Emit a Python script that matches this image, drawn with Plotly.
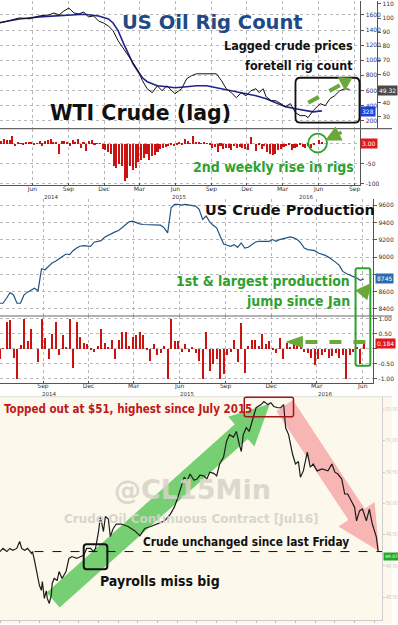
import plotly.graph_objects as go
import pandas as pd

W, H = 398, 625
def fx(x): return x / W
def fy(y): return 1 - y / H

# ---------------- DATA ----------------
# Panel 1: US oil rig count and lagged WTI crude
rig_dates = ["2014-03-10", "2014-04-29", "2014-06-18", "2014-07-26", "2014-09-02", "2014-10-10",
             "2014-11-17", "2014-12-12", "2014-12-24", "2015-01-06", "2015-01-19", "2015-02-01",
             "2015-02-13", "2015-02-26", "2015-03-09", "2015-03-21", "2015-04-03", "2015-04-16",
             "2015-05-10", "2015-05-31", "2015-06-30", "2015-07-25", "2015-08-20", "2015-09-14",
             "2015-10-09", "2015-11-04", "2015-11-29", "2015-12-24", "2016-01-19", "2016-02-13",
             "2016-03-08", "2016-04-03", "2016-04-28", "2016-05-18", "2016-06-03", "2016-06-10"]
rig_count = [1500, 1547, 1574, 1587, 1600, 1610, 1587, 1547, 1494, 1389, 1230, 1085,
             953, 847, 768, 715, 689, 662, 649, 636, 649, 662, 662, 636,
             610, 583, 557, 530, 490, 438, 385, 358, 332, 316, 325, 328]

wti_dates = ["2014-03-10", "2014-04-29", "2014-05-24", "2014-06-18", "2014-07-13", "2014-07-26",
             "2014-08-08", "2014-08-20", "2014-09-02", "2014-09-15", "2014-09-27", "2014-10-10",
             "2014-10-22", "2014-11-04", "2014-11-17", "2014-11-29", "2014-12-12", "2014-12-24",
             "2015-01-06", "2015-01-19", "2015-02-01", "2015-02-13", "2015-02-26", "2015-03-09",
             "2015-03-21", "2015-04-03", "2015-04-16", "2015-04-28", "2015-05-10", "2015-05-31",
             "2015-06-17", "2015-06-30", "2015-07-12", "2015-07-25", "2015-08-20", "2015-09-14",
             "2015-09-27", "2015-10-09", "2015-10-22", "2015-11-04", "2015-11-16", "2015-11-29",
             "2015-12-11", "2015-12-24", "2016-01-01", "2016-01-11", "2016-01-19", "2016-02-01",
             "2016-02-13", "2016-02-26", "2016-03-08", "2016-03-21", "2016-04-03", "2016-04-15",
             "2016-04-28", "2016-05-05", "2016-05-18", "2016-06-05", "2016-06-18", "2016-06-30",
             "2016-07-12", "2016-07-25", "2016-08-07", "2016-08-19"]
wti_lag = [96.5, 100.1, 99.4, 101.5, 102.2, 103.6, 102.2, 105.0, 107.1, 103.6, 102.9, 104.3,
           100.8, 101.5, 97.9, 96.5, 94.4, 90.9, 83.8, 78.1, 73.2, 68.2, 62.5, 55.5,
           49.8, 47.0, 51.9, 48.4, 51.9, 46.3, 49.8, 56.9, 59.0, 60.4, 60.4, 60.4,
           55.5, 49.8, 47.0, 43.4, 47.0, 44.8, 48.4, 49.8, 47.0, 49.8, 44.1, 41.3,
           41.3, 39.2, 37.1, 39.2, 32.8, 30.7, 30.7, 29.3, 34.2, 39.2, 37.8, 42.7,
           44.8, 48.4, 49.8, 49.32]

# Panel 2: weekly change in oil rigs (Fridays from 2014-03-14)
rig_chg_start = "2014-03-14"
rig_chg = [8, 12, 10, 9, 20, -6, 3, 2, -2, 4, 3, 6, -3, 2, 8, -4, 7, 10, 12, 5, 3, -25,
           8, 7, 6, -4, 10, 4, 12, -10, 5, -17, 8, 10, -3, 2, 2, -12, -15, -20, -25, -55,
           -60, -50, -55, -93, -85, -55, -65, -60, -45, -40, -35, -25, -40, -30, -28, -20,
           -12, -10, -8, -5, -3, -6, -2, 3, -1, 12, 8, 2, 19, 5, 6, 2, 4, 1, -2, -10, -8,
           -20, -4, -12, -10, -9, -16, -6, -10, -8, -10, -12, -14, 17, 0, -18,
           -2, -12, -5, -20, -25, -28, -26, -15, -12, -8, -6, -1, -15, -10, -8, -3, -8,
           -11, -4, -10, -2, 0, 9, 3]

# Panel 3: US crude production, weekly (Fridays from 2014-06-06), kb/d
prod_start = "2014-06-06"
prod = [8463, 8463, 8521, 8588, 8560, 8463, 8463, 8560, 8592, 8619, 8638, 8607,
        8864, 8852, 8891, 8930, 8950, 8981, 9008, 9035, 9028, 9074, 9105, 9125,
        9133, 9125, 9125, 9172, 9183, 9191, 9230, 9253, 9269, 9292, 9308, 9339,
        9370, 9409, 9417, 9397, 9386, 9378, 9378, 9370, 9370, 9370, 9370, 9339,
        9281, 9573, 9612, 9612, 9604, 9612, 9604, 9604, 9592, 9553, 9436, 9476,
        9409, 9370, 9339, 9242, 9152, 9137, 9125, 9144, 9113, 9164, 9105, 9113,
        9144, 9172, 9183, 9183, 9191, 9183, 9203, 9183, 9203, 9214, 9230, 9234,
        9222, 9203, 9164, 9105, 9086, 9082, 9074, 9047, 9035, 9020, 8996, 8969,
        8938, 8903, 8833, 8809, 8794, 8774, 8755, 8729, 8745]
# Panel 4: weekly % change in production
prod_chg = [-0.35, 0.02, 0.9, 0.97, -0.3, -1.0, 0.12, 1.0, 0.25, 0.65, 0.0, -0.45,
            1.0, 0.35, -0.33, 0.5, 0.9, -0.2, 0.45, 0.05, 1.0, -0.65, 0.9, 0.4,
            0.2, 0.15, -0.05, -0.1, 0.1, 0.65, 0.2, 0.05, 0.3, -0.35, 0.3, 0.55,
            0.55, 0.1, 0.4, 0.45, 0.55, 0.45, -0.05, -0.4, 0.15, -0.2, -0.15, 0.1,
            -1.0, 1.0, 0.25, 0.25, -0.1, 0.15, -0.1, 0.05, -0.15, -0.4, -1.0, 0.55,
            -0.75, -0.5, -0.35, -1.0, -0.85, -0.2, -0.1, 0.3, -0.45, 0.85, -0.8, 0.1,
            0.3, 0.3, 0.1, 0.5, 0.15, 0.25, -0.05, -0.15, 0.35, -0.35, 0.2, 0.05,
            0.25, 0.15, 0.1, -0.1, -0.15, -0.3, -0.55, -0.35, -0.2, -0.1, -0.3, -0.25,
            -0.15, -0.3, -0.2, -1.0, -0.2, -0.1, 0.05, -0.5, 0.184]

# Panel 5: crude oil continuous contract, 15-min (hours since start, price)
cl_hours = [0, 0.9, 2.1, 3.0, 3.9, 5.1, 6.0, 6.6, 7.5, 8.4, 9.6, 9.9, 10.5, 11.1, 11.4, 12.0,
            12.6, 12.9, 13.5, 14.1, 14.4, 15.0, 15.6, 15.9, 16.5, 17.4, 18.0, 18.9, 20.1, 21.0,
            21.9, 23.4, 24.6, 25.5, 26.4, 27.6, 28.5, 29.1, 30.0, 30.6, 30.9, 31.5, 32.1, 33.0,
            33.6, 34.5, 35.4, 36.9, 39.0, 41.1, 42.6, 44.1, 45.9, 48.0, 50.1, 51.9, 53.1, 54.0,
            54.9, 56.1, 57.0, 57.9, 59.1, 60.0, 60.9, 62.1, 63.0, 63.9, 65.1, 66.0, 66.9, 68.1,
            69.0, 69.9, 71.1, 72.0, 72.9, 73.5, 74.1, 75.0, 75.9, 77.1, 78.0, 79.5, 80.4, 81.6,
            82.5, 83.4, 84.6, 85.5, 86.4, 87.0, 87.9, 89.1, 90.0, 90.9, 91.5, 92.4, 93.6, 94.5,
            95.4, 96.6, 98.1, 99.9, 101.1, 102.0, 102.9, 104.1, 105.0, 105.9, 107.1, 108.0,
            108.6, 109.5, 110.4, 111.6, 112.5, 113.4, 114.6, 115.2]
cl_price = [49.23, 49.28, 49.23, 49.28, 49.25, 49.28, 49.39, 49.28, 49.25, 49.28, 49.20, 49.23,
            49.09, 48.93, 48.83, 48.69, 48.61, 48.75, 48.48, 48.60, 48.48, 48.40, 48.53, 48.72,
            48.80, 48.77, 48.91, 48.80, 48.91, 49.12, 49.15, 49.12, 49.15, 49.17, 49.28, 49.28,
            49.23, 49.28, 49.55, 49.79, 49.71, 49.55, 49.79, 49.75, 49.47, 49.60, 49.67, 49.67,
            49.63, 49.56, 49.48, 49.60, 49.63, 49.67, 49.72, 49.83, 49.94, 50.07, 50.23, 50.42,
            50.36, 50.47, 50.37, 50.39, 50.45, 50.44, 50.39, 50.50, 50.48, 50.44, 50.63, 50.74,
            50.99, 51.10, 51.06, 51.15, 50.94, 50.83, 51.10, 51.21, 51.15, 51.37, 51.53, 51.58,
            51.63, 51.58, 51.61, 51.55, 51.53, 51.53, 51.58, 51.21, 51.10, 50.79, 50.63, 50.67,
            50.42, 50.52, 50.82, 50.58, 50.63, 50.52, 50.55, 50.52, 50.63, 50.50, 50.47, 50.39,
            50.15, 50.15, 50.04, 49.94, 49.72, 49.88, 49.91, 49.72, 49.91, 49.67, 49.47, 49.23]
last_friday_close = 49.23

q_ticks_top = ["2014-03-01", "2014-06-01", "2014-09-01", "2014-12-01", "2015-03-01", "2015-06-01",
               "2015-09-01", "2015-12-01", "2016-03-01", "2016-06-01", "2016-09-01"]
q_text_top = ["Mar", "Jun", "Sep", "Dec", "Mar", "Jun", "Sep", "Dec", "Mar", "Jun", "Sep"]
q_ticks_mid = q_ticks_top[2:10]
q_text_mid = q_text_top[2:10]

rig_chg_dates = pd.date_range(rig_chg_start, periods=len(rig_chg), freq="7D")
prod_dates = pd.date_range(prod_start, periods=len(prod), freq="7D")

# ---------------- FIGURE ----------------
RED = "#cc1111"
GREEN_T = "#2fa12f"
GREEN_A = "#6aa83a"
COND = "DejaVu Sans Condensed, Liberation Sans Narrow, sans-serif"
BOLD = "DejaVu Sans, Verdana, sans-serif"
TICKF = dict(size=6, color="#333", family="DejaVu Sans")

fig = go.Figure()
fig.add_trace(go.Scatter(x=rig_dates, y=rig_count, mode="lines", xaxis="x", yaxis="y",
                         line=dict(color="#23238e", width=1.6)))
fig.add_trace(go.Scatter(x=wti_dates, y=wti_lag, mode="lines", xaxis="x", yaxis="y2",
                         line=dict(color="#111", width=1)))
fig.add_trace(go.Bar(x=rig_chg_dates, y=rig_chg, xaxis="x2", yaxis="y3",
                     marker=dict(color=RED, line=dict(width=0)), width=4 * 86400000))
fig.add_trace(go.Scatter(x=prod_dates, y=prod, mode="lines", xaxis="x3", yaxis="y4",
                         line=dict(color="#24527f", width=1.2)))
fig.add_trace(go.Bar(x=prod_dates, y=prod_chg, xaxis="x4", yaxis="y5",
                     marker=dict(color=RED, line=dict(width=0)), width=4 * 86400000))
fig.add_trace(go.Scatter(x=cl_hours, y=cl_price, mode="lines", xaxis="x5", yaxis="y6",
                         line=dict(color="#1c1c1c", width=1.2)))

grid = dict(showgrid=True, gridcolor="#b8b8b8", griddash="dot", gridwidth=0.8)
yright = dict(side="right", ticks="outside", ticklen=3, tickcolor="#555", showline=True,
              linecolor="#555", linewidth=1, tickfont=TICKF, zeroline=False, fixedrange=True)

fig.update_layout(
    width=W, height=H, margin=dict(l=0, r=0, t=0, b=0),
    paper_bgcolor="white", plot_bgcolor="rgba(0,0,0,0)", showlegend=False, bargap=0,
    xaxis=dict(domain=[0, fx(366)], anchor="y", type="date", range=["2014-03-10", "2016-09-16"],
               tickvals=q_ticks_top, showticklabels=False, ticks="", **grid),
    yaxis=dict(domain=[fy(128), 1], anchor="x", range=[94, 1785],
               tickvals=[200, 400, 600, 800, 1000, 1200, 1400, 1600],
               tickfont=dict(size=6, color="#333366", family="DejaVu Sans"),
               **{k: v for k, v in yright.items() if k != "tickfont"}, **grid),
    yaxis2=dict(overlaying="y", anchor="free", position=fx(383), range=[21.5, 112.1],
                tickvals=[30, 40, 50, 60, 70, 80, 90, 100, 110],
                ticktext=["30", "40", "", "60", "70", "80", "90", "100", "110"],
                showgrid=False, **yright),
    xaxis2=dict(domain=[0, fx(366)], anchor="y3", type="date", matches="x",
                tickvals=q_ticks_top, ticktext=q_text_top, tickfont=TICKF, ticks="inside",
                ticklen=2, tickcolor="#555", showline=True, linecolor="#555",
                ticklabelstandoff=-3, **grid),
    yaxis3=dict(domain=[fy(185), fy(128)], anchor="x2", range=[-105, 37.5],
                tickvals=[0, -50, -100], ticktext=["", "-50", "-100"], **yright, **grid),
    xaxis3=dict(domain=[0, fx(379)], anchor="y4", type="date", range=["2014-06-07", "2016-06-22"],
                tickvals=q_ticks_mid, showticklabels=False, ticks="", **grid),
    yaxis4=dict(domain=[fy(316), fy(199)], anchor="x3", range=[8315, 9670],
                tickvals=[8400, 8600, 8800, 9000, 9200, 9400, 9600],
                ticktext=["8400", "8600", "", "9000", "9200", "9400", "9600"], **yright, **grid),
    xaxis4=dict(domain=[0, fx(379)], anchor="y5", type="date", matches="x3",
                tickvals=q_ticks_mid, ticktext=q_text_mid, tickfont=TICKF, ticks="inside",
                ticklen=2, tickcolor="#555", showline=True, linecolor="#555",
                ticklabelstandoff=-3, **grid),
    yaxis5=dict(domain=[fy(383), fy(316)], anchor="x4", range=[-1.14, 1.10],
                tickvals=[1, 0.5, 0, -0.5, -1], ticktext=["1.00", "0.50", "", "-0.50", "-1.00"],
                **yright, **grid),
    xaxis5=dict(domain=[0, fx(388)], anchor="y6", range=[0, 116.4], showticklabels=False,
                showgrid=False, zeroline=False, showline=True, linecolor="#ccc", ticks="outside",
                ticklen=2, tickcolor="#bbb", dtick=6),
    yaxis6=dict(domain=[fy(621), fy(397)], anchor="x5", side="right", range=[48.135, 51.706],
                tickvals=[48.5, 49.0, 49.5, 50.0, 50.5, 51.0, 51.5],
                ticktext=["48.50", "49.00", "49.50", "50.00", "50.50", "51.00", "51.50"],
                tickfont=dict(size=4.5, color="#c8c4b8"), ticks="outside", ticklen=2,
                tickcolor="#ccc", showline=True, linecolor="#cfcfcf", showgrid=False,
                zeroline=False),
)

def P(x, y):
    return f"{fx(x):.5f},{fy(y):.5f}"

def poly(pts):
    return "M " + " L ".join(P(x, y) for x, y in pts) + " Z"

def rrect(x0, y0, x1, y1, r):
    return ("M " + P(x0 + r, y0) + " L " + P(x1 - r, y0) + " Q " + P(x1, y0) + " " + P(x1, y0 + r) +
            " L " + P(x1, y1 - r) + " Q " + P(x1, y1) + " " + P(x1 - r, y1) +
            " L " + P(x0 + r, y1) + " Q " + P(x0, y1) + " " + P(x0, y1 - r) +
            " L " + P(x0, y0 + r) + " Q " + P(x0, y0) + " " + P(x0 + r, y0) + " Z")

shapes = []
shapes.append(dict(type="rect", xref="paper", yref="paper", x0=0, x1=1, y0=0, y1=fy(397),
                   fillcolor="#fcf8ec", line=dict(width=0), layer="below"))
for yy in (128, 316):
    shapes.append(dict(type="line", xref="paper", yref="paper", x0=0, x1=1, y0=fy(yy), y1=fy(yy),
                       line=dict(color="#666", width=1.2)))
shapes.append(dict(type="line", xref="paper", yref="paper", x0=0, x1=1, y0=fy(397), y1=fy(397),
                   line=dict(color="#ddd", width=1)))
shapes.append(dict(type="path", xref="paper", yref="paper", layer="below",
                   path=poly([(47.4, 593.5), (238.4, 424.5), (231.7, 417), (274, 404),
                              (258.3, 447), (251.6, 439.5), (60.6, 608.5)]),
                   fillcolor="rgba(95,200,95,0.85)", line=dict(width=0)))
shapes.append(dict(type="path", xref="paper", yref="paper", layer="below",
                   path=poly([(280.7, 411.6), (297.3, 400.4), (370.3, 509.4), (380.3, 502.7),
                              (385, 552), (343.7, 527.3), (353.7, 520.6)]),
                   fillcolor="rgba(245,160,160,0.75)", line=dict(width=0)))
shapes.append(dict(type="path", xref="paper", yref="paper", path=rrect(248, 397.5, 298, 417, 2),
                   line=dict(color="#a01818", width=1.5)))
shapes.append(dict(type="path", xref="paper", yref="paper", path=rrect(85, 545, 109, 570, 3),
                   line=dict(color="#111", width=2)))
shapes.append(dict(type="line", xref="x5", yref="y6", x0=10.5, x1=116.4,
                   y0=last_friday_close, y1=last_friday_close,
                   line=dict(color="#111", width=1, dash="dash")))
shapes.append(dict(type="path", xref="paper", yref="paper", path=rrect(300, 77, 365, 122, 5),
                   line=dict(color="#111", width=1.8)))
shapes.append(dict(type="line", xref="paper", yref="paper", x0=fx(313), y0=fy(102), x1=fx(346), y1=fy(84),
                   line=dict(color=GREEN_A, width=4, dash="dash")))
shapes.append(dict(type="path", xref="paper", yref="paper",
                   path=poly([(350.4, 89.1), (343.6, 76.9), (357, 77.5)]),
                   fillcolor=GREEN_A, line=dict(color=GREEN_A, width=1)))
shapes.append(dict(type="circle", xref="paper", yref="paper", x0=fx(313), x1=fx(332), y0=fy(152), y1=fy(133),
                   line=dict(color=GREEN_T, width=1.8)))
shapes.append(dict(type="path", xref="paper", yref="paper", path=rrect(361, 268, 376, 366, 2),
                   line=dict(color=GREEN_T, width=2)))
shapes.append(dict(type="line", xref="paper", yref="paper", x0=fx(371), y0=fy(342), x1=fx(306), y1=fy(342),
                   line=dict(color=GREEN_A, width=4, dash="dash")))
shapes.append(dict(type="path", xref="paper", yref="paper",
                   path=poly([(307, 336.5), (307, 347.5), (291, 342)]),
                   fillcolor=GREEN_A, line=dict(color=GREEN_A, width=1)))
fig.update_layout(shapes=shapes)

ann = []
def txt(x, y, s, size, color, family, xanchor="center", opacity=1):
    ann.append(dict(x=fx(x), y=fy(y), xref="paper", yref="paper", text=s, showarrow=False,
                    xanchor=xanchor, yanchor="middle", opacity=opacity,
                    font=dict(size=size, color=color, family=family)))

def tag(x, y, s, bg, size=6):
    ann.append(dict(x=fx(x), y=fy(y), xref="paper", yref="paper", text=s, showarrow=False,
                    xanchor="left", yanchor="middle", bgcolor=bg, borderpad=1,
                    font=dict(size=size, color="white", family="DejaVu Sans")))

for x, s in ((52, "2014"), (182, "2015"), (311, "2016")):
    txt(x, 196.5, s, 5.5, "#333", "DejaVu Sans")
for x, s in ((50, "2014"), (190, "2015"), (330, "2016")):
    txt(x, 393.8, s, 5.5, "#333", "DejaVu Sans")

txt(216, 22, "<b>US Oil Rig Count</b>", 19.5, "#1f4a85", BOLD)
txt(360, 45, "<b>Lagged crude prices</b>", 12.5, "#111", COND, "right")
txt(360, 65, "<b>foretell rig count</b>", 12.5, "#111", COND, "right")
txt(143, 112, "<b>WTI Crude (lag)</b>", 20.5, "#111", BOLD)
txt(278, 167, "<b>2nd weekly rise in rigs</b>", 14, GREEN_T, COND)
txt(294, 210, "<b>US Crude Production</b>", 14.5, "#111", BOLD)
txt(357, 281, "<b>1st &amp; largest production</b>", 14, GREEN_T, COND, "right")
txt(357, 301, "<b>jump since Jan</b>", 14, GREEN_T, COND, "right")
txt(195, 490, "<b>@CL15Min</b>", 27, "#d6d3c9", BOLD, opacity=0.85)
txt(194, 520, "<b>Crude Oil Continuous Contract [Jul16]</b>", 12, "#d6d3c9", BOLD, opacity=0.9)
txt(2, 409, "<b>Topped out at $51, highest since July 2015</b>", 11.5, "#c01818", COND, "left")
txt(250, 543, "<b>Crude unchanged since last Friday</b>", 11.8, "#111", COND)
txt(100, 582, "<b>Payrolls miss big</b>", 14, "#111", COND, "left")

tag(383, 90, "49.32", "#4a4a4a")
tag(366, 111, "328", "#1f3fe0")
tag(366, 143, "3.00", "#e01818")
tag(381, 278, "8745", "#2b6cb0")
tag(381, 344, "0.184", "#e01818")
tag(388.5, 557, "49.07", "#22aa22", 4.5)

ann.append(dict(x=fx(330), y=fy(140), xref="paper", yref="paper", ax=18, ay=-9, showarrow=True,
                arrowhead=2, arrowsize=0.9, arrowwidth=3.5, arrowcolor=GREEN_A, text=""))
ann.append(dict(x=fx(377), y=fy(283), xref="paper", yref="paper", ax=-10, ay=12, showarrow=True,
                arrowhead=2, arrowsize=0.9, arrowwidth=3.5, arrowcolor=GREEN_A, text=""))
fig.update_layout(annotations=ann)

fig.write_html("out.html")
